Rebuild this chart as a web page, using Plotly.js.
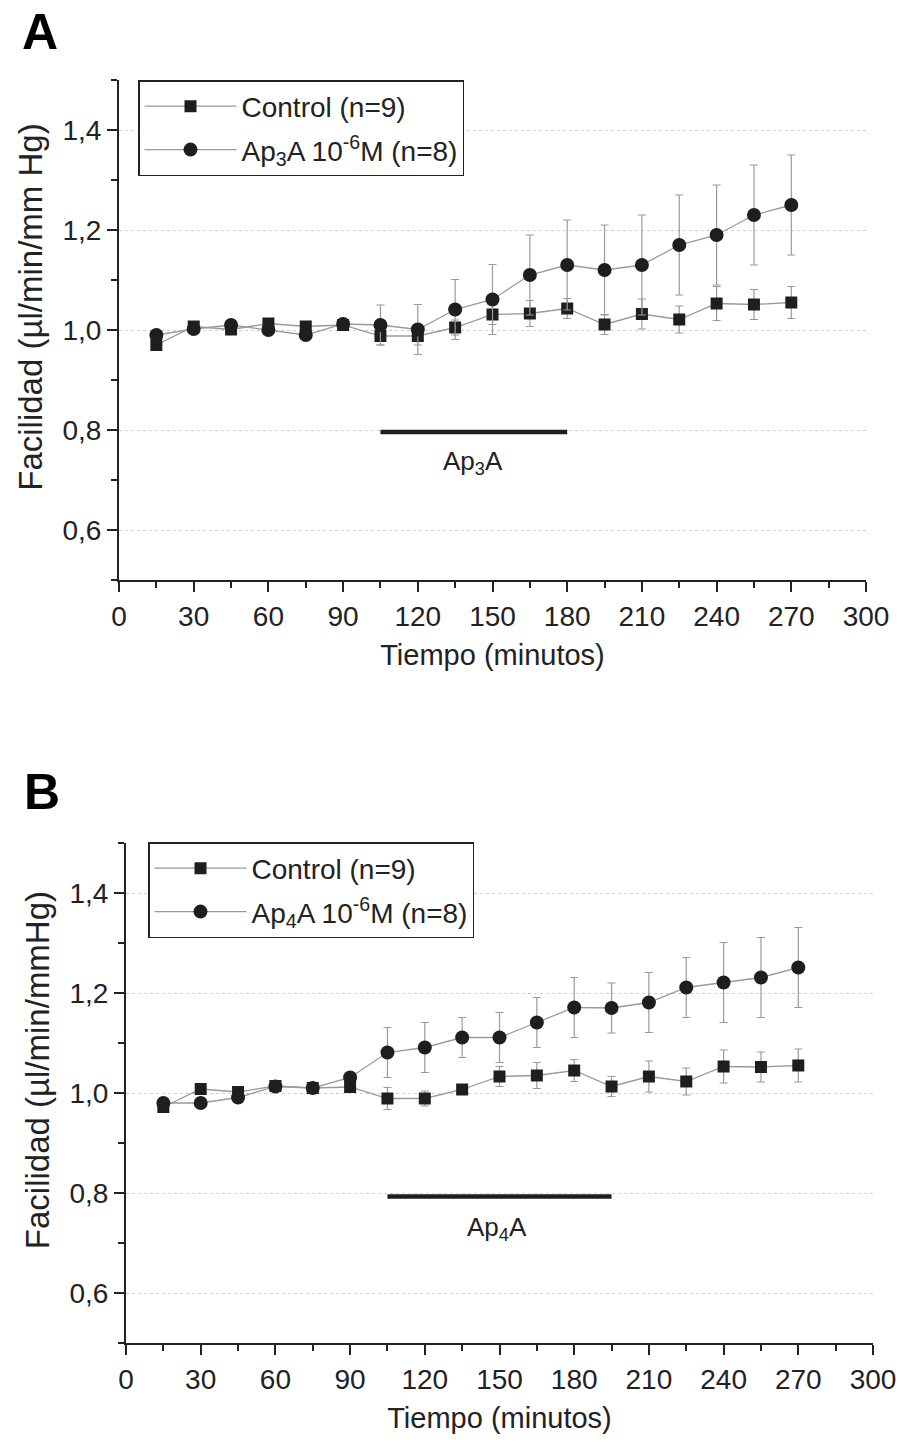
<!DOCTYPE html>
<html>
<head>
<meta charset="utf-8">
<script src="https://cdn.plot.ly/plotly-3.0.1.min.js"></script>
<style>html,body{margin:0;padding:0;background:#fff;}#chart{width:898px;height:1445px;}</style>
</head>
<body>
<div id="chart"></div>
<script>
// ---- data ----
const tiempo = [15,30,45,60,75,90,105,120,135,150,165,180,195,210,225,240,255,270];

const controlA    = [0.970,1.007,1.001,1.013,1.007,1.010,0.988,0.988,1.005,1.031,1.033,1.043,1.011,1.032,1.021,1.053,1.051,1.055];
const controlAErr = [0.008,0.008,0.008,0.008,0.010,0.008,0.018,0.018,0.015,0.020,0.026,0.020,0.020,0.030,0.027,0.034,0.030,0.032];
const ap3a        = [0.990,1.002,1.010,1.000,0.990,1.012,1.010,1.001,1.041,1.061,1.110,1.130,1.120,1.130,1.170,1.190,1.230,1.250];
const ap3aErr     = [0.005,0.008,0.008,0.008,0.008,0.008,0.040,0.050,0.060,0.070,0.080,0.090,0.090,0.100,0.100,0.100,0.100,0.100];

const controlB    = [0.972,1.008,1.002,1.014,1.010,1.012,0.989,0.989,1.007,1.033,1.035,1.045,1.013,1.033,1.023,1.053,1.052,1.055];
const controlBErr = [0.008,0.008,0.008,0.008,0.008,0.008,0.022,0.015,0.010,0.020,0.026,0.022,0.020,0.031,0.027,0.033,0.030,0.033];
const ap4a        = [0.980,0.980,0.991,1.013,1.010,1.031,1.081,1.091,1.111,1.111,1.141,1.171,1.170,1.181,1.211,1.221,1.231,1.251];
const ap4aErr     = [0.008,0.010,0.008,0.006,0.006,0.006,0.050,0.050,0.040,0.050,0.050,0.060,0.050,0.060,0.060,0.080,0.080,0.080];

const treatA_x = [105,180];
const treatA_y = [0.796,0.796];
const treatB_x = [105,195];
const treatB_y = [0.793,0.793];

const xTicks = [0,30,60,90,120,150,180,210,240,270,300];
const yTicks = [0.6,0.8,1.0,1.2,1.4];

// ---- styling ----
const FONT = 'Liberation Sans, Arial, sans-serif';
const lineCol = '#9a9a9a';
const markCol = '#1e1e1e';

function series(x, y, err, name, symbol, size, xa, ya, leg, grp) {
  return {
    type: 'scatter', mode: 'lines+markers', x: x, y: y, name: name,
    xaxis: xa, yaxis: ya, legend: leg, legendgroup: grp,
    line: {color: lineCol, width: 1.3},
    marker: {symbol: symbol, size: size, color: markCol, line: {width: 0}},
    error_y: {type: 'data', array: err, visible: true, color: lineCol, thickness: 1.2, width: 4}
  };
}
function bar(x, y, xa, ya) {
  return {type: 'scatter', mode: 'lines', x: x, y: y, xaxis: xa, yaxis: ya,
    showlegend: false, hoverinfo: 'skip', line: {color: '#1e1e1e', width: 4.5}};
}

const traces = [
  series(tiempo, controlA, controlAErr, 'Control (n=9)', 'square', 12, 'x', 'y', 'legend', 'a1'),
  series(tiempo, ap3a, ap3aErr, 'Ap<sub>3</sub>A 10<sup>-6</sup>M (n=8)', 'circle', 14, 'x', 'y', 'legend', 'a2'),
  bar(treatA_x, treatA_y, 'x', 'y'),
  series(tiempo, controlB, controlBErr, 'Control (n=9)', 'square', 12, 'x2', 'y2', 'legend2', 'b1'),
  series(tiempo, ap4a, ap4aErr, 'Ap<sub>4</sub>A 10<sup>-6</sup>M (n=8)', 'circle', 14, 'x2', 'y2', 'legend2', 'b2'),
  bar(treatB_x, treatB_y, 'x2', 'y2')
];

function xAxis(domain, anchor) {
  return {
    domain: domain, anchor: anchor, range: [0, 300],
    tickmode: 'array', tickvals: xTicks, ticktext: xTicks.map(String),
    ticks: 'outside', ticklen: 10, tickwidth: 2, tickcolor: '#222',
    minor: {dtick: 15, tick0: 0, ticks: 'outside', ticklen: 6, tickwidth: 2, tickcolor: '#222', showgrid: false},
    showline: true, linewidth: 2, linecolor: '#222', showgrid: false, zeroline: false,
    tickfont: {family: FONT, size: 28, color: '#222'},
    title: {text: 'Tiempo (minutos)', font: {family: FONT, size: 29, color: '#222'}, standoff: 14},
    automargin: false
  };
}
function yAxis(domain, anchor, title) {
  return {
    domain: domain, anchor: anchor, range: [0.5, 1.5],
    tickmode: 'array', tickvals: yTicks, ticktext: yTicks.map(v => v.toFixed(1).replace('.', ',')),
    ticks: 'outside', ticklen: 10, tickwidth: 2, tickcolor: '#222',
    minor: {dtick: 0.1, tick0: 0.5, ticks: 'outside', ticklen: 6, tickwidth: 2, tickcolor: '#222', showgrid: false},
    showline: true, linewidth: 2, linecolor: '#222', zeroline: false,
    showgrid: true, gridcolor: '#cfcfcf', gridwidth: 1, griddash: 'dot',
    tickfont: {family: FONT, size: 28, color: '#222'},
    title: {text: '&nbsp;&nbsp;&nbsp;&nbsp;&nbsp;' + title, font: {family: FONT, size: 33, color: '#222'}, standoff: 10},
    automargin: false
  };
}

const legendStyle = (x, y) => ({
  x: x, y: y, xanchor: 'left', yanchor: 'top',
  bgcolor: '#fff', bordercolor: '#222', borderwidth: 1.5,
  font: {family: FONT, size: 28, color: '#222'}, tracegroupgap: 4, itemwidth: 92
});

const layout = {
  width: 898, height: 1445,
  margin: {l: 0, r: 0, t: 0, b: 0},
  paper_bgcolor: '#fff', plot_bgcolor: '#fff',
  font: {family: FONT, color: '#222'},
  showlegend: true,
  xaxis: xAxis([119/898, 866/898], 'y'),
  yaxis: yAxis([1 - 580/1445, 1 - 80/1445], 'x', 'Facilidad (µl/min/mm Hg)'),
  xaxis2: xAxis([126/898, 873/898], 'y2'),
  yaxis2: yAxis([1 - 1343/1445, 1 - 843/1445], 'x2', 'Facilidad (µl/min/mmHg)'),
  legend: legendStyle(138/898, 1 - 80/1445),
  legend2: legendStyle(148/898, 1 - 842/1445),
  annotations: [
    {text: '<b>A</b>', xref: 'paper', yref: 'paper', x: 20/898, y: 1 - 2/1445, xanchor: 'left', yanchor: 'top',
      showarrow: false, font: {family: FONT, size: 50, color: '#000'}},
    {text: '<b>B</b>', xref: 'paper', yref: 'paper', x: 22/898, y: 1 - 762/1445, xanchor: 'left', yanchor: 'top',
      showarrow: false, font: {family: FONT, size: 50, color: '#000'}},
    {text: 'Ap<sub>3</sub>A', xref: 'x', yref: 'y', x: 142, y: 0.735, showarrow: false,
      font: {family: FONT, size: 26, color: '#222'}},
    {text: 'Ap<sub>4</sub>A', xref: 'x2', yref: 'y2', x: 149, y: 0.73, showarrow: false,
      font: {family: FONT, size: 26, color: '#222'}}
  ]
};

Plotly.newPlot('chart', traces, layout, {staticPlot: true, displayModeBar: false});
</script>
</body>
</html>
